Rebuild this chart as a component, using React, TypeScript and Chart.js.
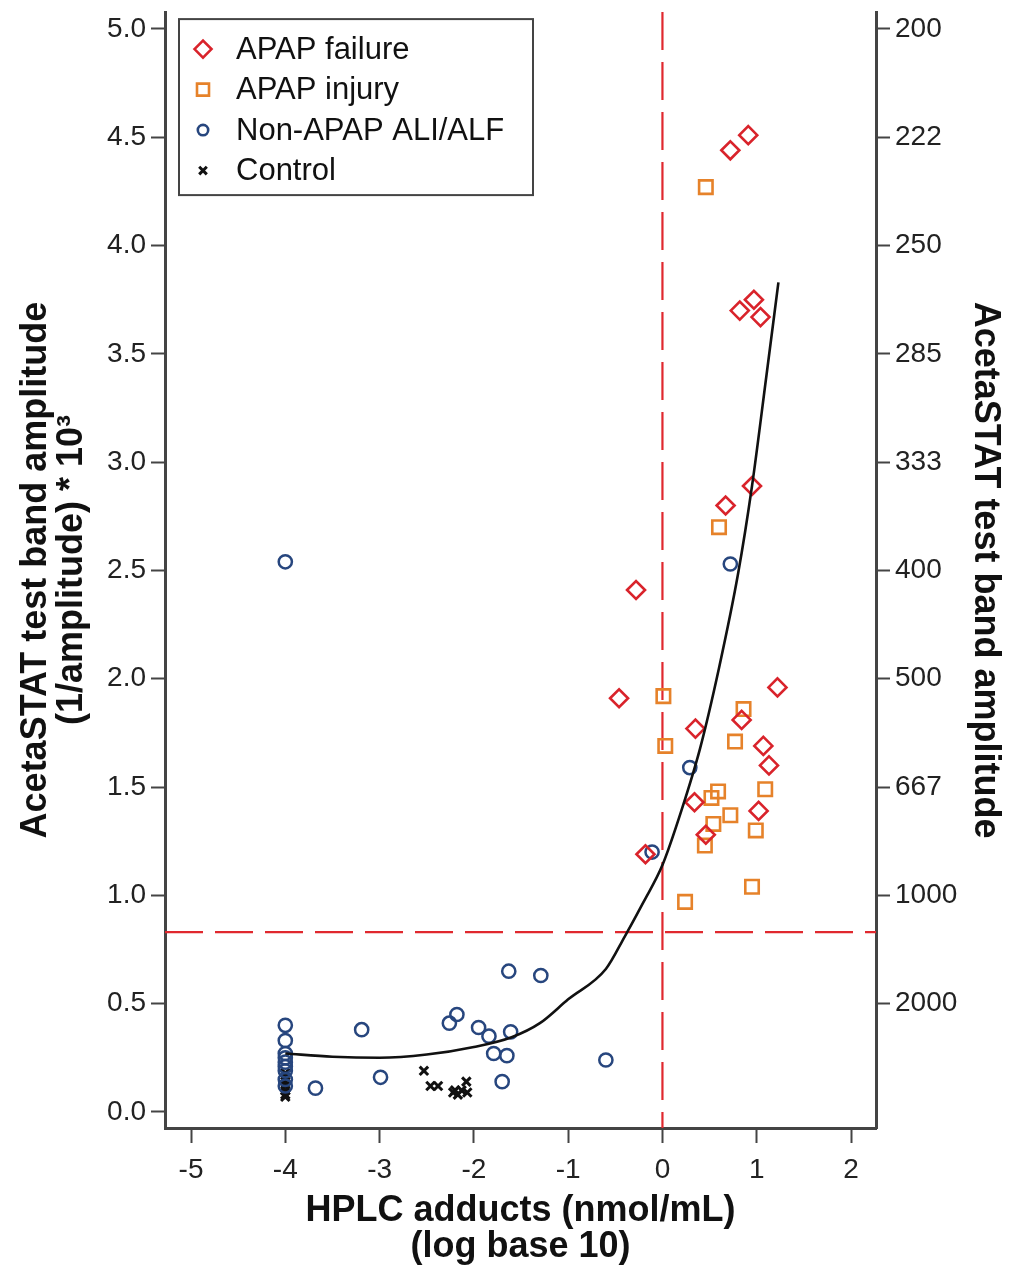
import React, { useEffect, useRef } from 'react';
import { Chart, registerables } from 'chart.js';

Chart.register(...registerables);

// ---------- data ----------
const seriesNames = ['APAP failure', 'APAP injury', 'Non-APAP ALI/ALF', 'Control'];

const failureX = [0.72, 0.91, 0.82, 0.97, 1.04, 0.95, 0.67, -0.28, -0.46, 1.22, 0.84, 0.35, 1.07, 1.13, 0.34, 1.02, 0.46, -0.18];
const failureY = [4.44, 4.51, 3.70, 3.75, 3.67, 2.89, 2.80, 2.41, 1.91, 1.96, 1.81, 1.77, 1.69, 1.60, 1.43, 1.39, 1.28, 1.19];

const injuryX = [0.46, 0.60, 0.01, 0.86, 0.03, 0.77, 0.59, 0.52, 1.09, 0.72, 0.54, 0.99, 0.45, 0.95, 0.24];
const injuryY = [4.27, 2.70, 1.92, 1.86, 1.69, 1.71, 1.48, 1.45, 1.49, 1.37, 1.33, 1.30, 1.23, 1.04, 0.97];

const nonApapX = [-4, -4, -4, -4, -4, -4, -4, -4, -4, -4, -3.68, -3.19, -2.99, -2.26, -2.18, -1.95, -1.84, -1.79, -1.65, -1.61, -1.70, -1.63, -1.29, -0.60, -0.11, 0.29, 0.72];
const nonApapY = [2.54, 0.40, 0.33, 0.27, 0.25, 0.23, 0.21, 0.19, 0.15, 0.12, 0.11, 0.38, 0.16, 0.41, 0.45, 0.39, 0.35, 0.27, 0.26, 0.37, 0.14, 0.65, 0.63, 0.24, 1.20, 1.59, 2.53];

const controlX = [-4, -4, -4, -4, -4, -4, -4, -2.53, -2.46, -2.38, -2.22, -2.20, -2.17, -2.13, -2.08, -2.07];
const controlY = [0.18, 0.16, 0.14, 0.12, 0.10, 0.08, 0.07, 0.19, 0.12, 0.12, 0.09, 0.10, 0.08, 0.10, 0.14, 0.09];

const fitX = [-4, -3.5, -3, -2.5, -2, -1.6, -1.3, -1.0, -0.6, -0.4, -0.2, 0, 0.2, 0.4, 0.6, 0.8, 0.95, 1.1, 1.23];
const fitY = [0.27, 0.255, 0.25, 0.265, 0.30, 0.345, 0.41, 0.52, 0.66, 0.81, 0.97, 1.14, 1.39, 1.68, 2.05, 2.48, 2.89, 3.39, 3.83];

const cutoffX = 0;
const cutoffY = 0.83;

const xTicks = [-5, -4, -3, -2, -1, 0, 1, 2];
const yTicks = [0, 0.5, 1, 1.5, 2, 2.5, 3, 3.5, 4, 4.5, 5];
const rightTickValues = [0.5, 1, 1.5, 2, 2.5, 3, 3.5, 4, 4.5, 5];
const rightTickLabels = ['2000', '1000', '667', '500', '400', '333', '285', '250', '222', '200'];

const xMin = -5.276;
const xMax = 2.265;
const yMin = -0.074;
const yMax = 5.078;

const xTitle = ['HPLC adducts (nmol/mL)', '(log base 10)'];
const yTitle = ['AcetaSTAT test band amplitude', '(1/amplitude) * 10\u00B3'];
const y2Title = 'AcetaSTAT test band amplitude';

// ---------- styles ----------
const RED = '#d9232b';
const ORANGE = '#e6822a';
const BLUE = '#27467e';
const BLACK = '#111111';
const FONT = "'Liberation Sans', Arial, Helvetica, sans-serif";

const zip = (xs: number[], ys: number[]) => xs.map((x, i) => ({ x, y: ys[i] }));

function drawMarker(ctx: CanvasRenderingContext2D, style: string, x: number, y: number, color: string) {
  ctx.save();
  ctx.strokeStyle = color;
  ctx.lineWidth = 2.6;
  ctx.beginPath();
  if (style === 'rectRot') {
    const r = 8.5;
    ctx.moveTo(x - r, y);
    ctx.lineTo(x, y - r);
    ctx.lineTo(x + r, y);
    ctx.lineTo(x, y + r);
    ctx.closePath();
  } else if (style === 'rect') {
    const h = 6;
    ctx.rect(x - h, y - h, 2 * h, 2 * h);
  } else if (style === 'circle') {
    ctx.arc(x, y, 5.2, 0, Math.PI * 2);
  } else {
    ctx.lineWidth = 3;
    const h = 3.8;
    ctx.moveTo(x - h, y - h);
    ctx.lineTo(x + h, y + h);
    ctx.moveTo(x + h, y - h);
    ctx.lineTo(x - h, y + h);
  }
  ctx.stroke();
  ctx.restore();
}

const legendItems = [
  { label: seriesNames[0], style: 'rectRot', color: RED },
  { label: seriesNames[1], style: 'rect', color: ORANGE },
  { label: seriesNames[2], style: 'circle', color: BLUE },
  { label: seriesNames[3], style: 'crossRot', color: BLACK },
];

const cutoffPlugin = {
  id: 'cutoffLines',
  beforeDatasetsDraw(chart: any) {
    const { ctx, chartArea: a, scales } = chart;
    const px = scales.x.getPixelForValue(cutoffX);
    const py = scales.y.getPixelForValue(cutoffY);
    ctx.save();
    ctx.strokeStyle = '#e0282e';
    ctx.lineWidth = 2.2;
    ctx.setLineDash([38, 12]);
    ctx.beginPath();
    ctx.moveTo(px, a.top);
    ctx.lineTo(px, a.bottom);
    ctx.stroke();
    ctx.beginPath();
    ctx.moveTo(a.left, py);
    ctx.lineTo(a.right, py);
    ctx.stroke();
    ctx.restore();
  },
};

const legendPlugin = {
  id: 'boxLegend',
  afterDraw(chart: any) {
    const { ctx, chartArea: a } = chart;
    const bx = a.left + 14;
    const by = a.top + 7;
    const bw = 354;
    const bh = 176;
    ctx.save();
    ctx.fillStyle = '#ffffff';
    ctx.fillRect(bx, by, bw, bh);
    ctx.strokeStyle = '#444444';
    ctx.lineWidth = 2;
    ctx.strokeRect(bx, by, bw, bh);
    ctx.font = `31px ${FONT}`;
    ctx.textBaseline = 'middle';
    ctx.textAlign = 'left';
    legendItems.forEach((it, i) => {
      const cy = by + 30 + i * 40.5;
      drawMarker(ctx, it.style, bx + 24, cy, it.color);
      ctx.fillStyle = '#111111';
      ctx.fillText(it.label, bx + 57, cy + 1);
    });
    ctx.restore();
  },
};

const fitVertical = (width: number) => (s: any) => {
  s.width = width;
  s.paddingTop = 0;
  s.paddingBottom = 0;
};

export default function App() {
  const canvasRef = useRef<HTMLCanvasElement | null>(null);

  useEffect(() => {
    const canvas = canvasRef.current;
    if (!canvas) return;
    Chart.defaults.font.family = FONT;

    const titleFont = { size: 36, weight: 'bold', lineHeight: 1.0 };

    const chart = new Chart(canvas, {
      type: 'scatter',
      data: {
        datasets: [
          {
            type: 'line',
            label: 'fit',
            data: zip(fitX, fitY),
            borderColor: BLACK,
            borderWidth: 2.6,
            pointRadius: 0,
            fill: false,
            cubicInterpolationMode: 'monotone',
          } as any,
          {
            label: seriesNames[0],
            data: zip(failureX, failureY),
            pointStyle: 'rectRot',
            pointRadius: 9,
            borderColor: RED,
            backgroundColor: 'rgba(255,255,255,0)',
            borderWidth: 2.6,
          },
          {
            label: seriesNames[1],
            data: zip(injuryX, injuryY),
            pointStyle: 'rect',
            pointRadius: 9.5,
            borderColor: ORANGE,
            backgroundColor: 'rgba(255,255,255,0)',
            borderWidth: 2.6,
          },
          {
            label: seriesNames[2],
            data: zip(nonApapX, nonApapY),
            pointStyle: 'circle',
            pointRadius: 6.6,
            borderColor: BLUE,
            backgroundColor: 'rgba(255,255,255,0)',
            borderWidth: 2.5,
          },
          {
            label: seriesNames[3],
            data: zip(controlX, controlY),
            pointStyle: 'crossRot',
            pointRadius: 6,
            borderColor: BLACK,
            backgroundColor: BLACK,
            borderWidth: 3,
          },
        ],
      },
      options: {
        responsive: false,
        animation: false,
        devicePixelRatio: 1,
        layout: { padding: { top: 10, left: 0, right: 0, bottom: 0 } },
        plugins: {
          legend: { display: false },
          tooltip: { enabled: false },
        },
        scales: {
          x: {
            type: 'linear',
            position: 'bottom',
            min: xMin,
            max: xMax,
            afterBuildTicks: (s: any) => {
              s.ticks = xTicks.map((v) => ({ value: v }));
            },
            afterFit: (s: any) => {
              s.height = 141;
              s.paddingLeft = 0;
              s.paddingRight = 0;
            },
            ticks: {
              font: { size: 28 },
              color: '#222222',
              padding: 10,
              maxRotation: 0,
              autoSkip: false,
              callback: (v: any) => String(v),
            },
            grid: { drawOnChartArea: false, drawTicks: true, tickLength: 15, tickColor: '#444444', tickWidth: 2 },
            border: { display: true, color: '#444444', width: 3 },
            title: {
              display: true,
              text: xTitle,
              color: '#111111',
              font: titleFont,
              padding: { top: 0, bottom: 4 },
            },
          },
          y: {
            type: 'linear',
            position: 'left',
            min: yMin,
            max: yMax,
            afterBuildTicks: (s: any) => {
              s.ticks = yTicks.map((v) => ({ value: v }));
            },
            afterFit: fitVertical(165),
            ticks: {
              font: { size: 28 },
              color: '#222222',
              padding: 5,
              callback: (v: any) => Number(v).toFixed(1),
            },
            grid: { drawOnChartArea: false, drawTicks: true, tickLength: 14, tickColor: '#444444', tickWidth: 2 },
            border: { display: true, color: '#444444', width: 3 },
            title: {
              display: true,
              text: yTitle,
              color: '#111111',
              font: titleFont,
              padding: { top: 18, bottom: 0 },
            },
          },
          y2: {
            type: 'linear',
            position: 'right',
            min: yMin,
            max: yMax,
            afterBuildTicks: (s: any) => {
              s.ticks = rightTickValues.map((v) => ({ value: v }));
            },
            afterFit: fitVertical(137),
            ticks: {
              font: { size: 28 },
              color: '#222222',
              padding: 5,
              callback: (v: any) => {
                const i = rightTickValues.indexOf(Number(v));
                return i >= 0 ? rightTickLabels[i] : '';
              },
            },
            grid: { drawOnChartArea: false, drawTicks: true, tickLength: 14, tickColor: '#444444', tickWidth: 2 },
            border: { display: true, color: '#444444', width: 3 },
            title: {
              display: true,
              text: y2Title,
              color: '#111111',
              font: titleFont,
              padding: { top: 10, bottom: 0 },
            },
          },
        },
      } as any,
      plugins: [cutoffPlugin, legendPlugin],
    });

    return () => chart.destroy();
  }, []);

  return (
    <div style={{ position: 'absolute', left: 0, top: 0, width: 1013, height: 1269, background: '#ffffff' }}>
      <canvas ref={canvasRef} width={1013} height={1269} style={{ display: 'block', width: 1013, height: 1269 }} />
    </div>
  );
}
